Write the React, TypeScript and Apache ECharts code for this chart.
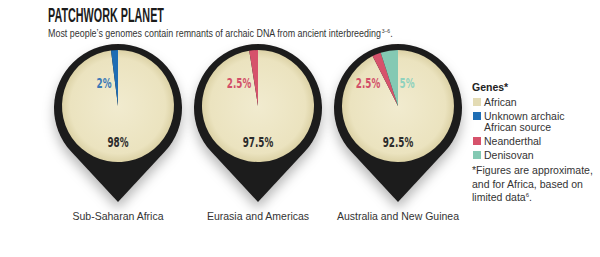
import React, { useEffect, useRef } from "react";
import * as echarts from "echarts";

// ---- data ----
const regions = ["Sub-Saharan Africa", "Eurasia and Americas", "Australia and New Guinea"];
const geneNames = ["African", "Unknown archaic African source", "Neanderthal", "Denisovan"];
const geneColors = ["#ebe3bf", "#1e6db4", "#d6526b", "#84c9b3"];
const geneLabelColors = ["#2b2b2b", "#3a78b6", "#d24f68", "#8fd2be"];
const africanPct = [98, 97.5, 92.5];
const unknownPct = [2, 0, 0];
const neanderthalPct = [0, 2.5, 2.5];
const denisovanPct = [0, 0, 5];

const titleText = "PATCHWORK PLANET";
const subtitleText = "Most people\u2019s genomes contain remnants of archaic DNA from ancient interbreeding";
const subtitleSup = "3\u20136";
const legendTitle = "Genes*";
const legendLabels = ["African", "Unknown archaic\nAfrican source", "Neanderthal", "Denisovan"];
const footLines = ["*Figures are approximate,", "and for Africa, based on", "limited data"];
const footSup = "6";

// ---- layout ----
const W = 600;
const H = 257;
const pinCx = [118, 258, 398];
const pinCy = 108;
const pinR = 64;
const tipDist = 94;
const pieR = 56;
const pieDy = -2;
// label offsets relative to pie centre, per slice
const labelOffsets: Record<number, [number, number][]> = {
  0: [[0, 36], [-14, -23]],
  1: [[0, 36], [-19, -23]],
  2: [[0, 36], [-30, -23], [9, -23]],
};

const pinPath = (() => {
  const a = Math.acos(pinR / tipDist);
  const tx = pinR * Math.sin(a);
  const ty = pinR * Math.cos(a);
  return `M ${-tx} ${ty} A ${pinR} ${pinR} 0 1 1 ${tx} ${ty} L 0 ${tipDist} Z`;
})();

let registered = false;
function ensureShape() {
  if (registered) return;
  echarts.graphic.registerShape("pin", echarts.graphic.extendPath(pinPath, {}) as any);
  registered = true;
}

export default function App() {
  const ref = useRef<HTMLDivElement>(null);
  useEffect(() => {
    if (!ref.current) return;
    ensureShape();
    const chart = echarts.init(ref.current, undefined, { renderer: "svg" });

    const seriesValues = regions.map((_, i) => [africanPct[i], unknownPct[i], neanderthalPct[i], denisovanPct[i]]);

    const africanFill = {
      type: "radial",
      x: 0.5,
      y: 0.5,
      r: 0.5,
      colorStops: [
        { offset: 0, color: "#f1ebcf" },
        { offset: 0.85, color: geneColors[0] },
        { offset: 1, color: "#dcd2a6" },
      ],
    };

    const series: any[] = regions.map((name, i) => ({
      type: "pie",
      name,
      center: [pinCx[i], pinCy + pieDy],
      radius: [0, pieR],
      startAngle: 90,
      clockwise: true,
      silent: true,
      label: { show: false },
      labelLine: { show: false },
      emphasis: { disabled: true },
      z: 5,
      data: seriesValues[i]
        .map((v, g) => ({ g, v }))
        .filter((d) => d.v > 0)
        .map((d) => ({
          name: geneNames[d.g],
          value: d.v,
          itemStyle: { color: d.g === 0 ? africanFill : geneColors[d.g] },
        })),
    }));

    const graphics: any[] = [];
    regions.forEach((_, i) => {
      graphics.push({
        type: "pin",
        x: pinCx[i],
        y: pinCy,
        z: 1,
        silent: true,
        style: {
          fill: "#1c1b1b",
          shadowBlur: 12,
          shadowColor: "rgba(0,0,0,0.28)",
          shadowOffsetY: 7,
        },
      });
      graphics.push({
        type: "text",
        x: pinCx[i],
        y: 216,
        z: 10,
        style: {
          text: regions[i],
          fill: "#333",
          font: "10.5px 'Liberation Sans', Arial, sans-serif",
          textAlign: "center",
          textVerticalAlign: "middle",
        },
      });
      const vals = seriesValues[i].map((v, g) => ({ v, g })).filter((d) => d.v > 0);
      vals.forEach((d, k) => {
        const off = labelOffsets[i][k];
        graphics.push({
          type: "text",
          x: pinCx[i] + off[0],
          y: pinCy + pieDy + off[1],
          z: 10,
          scaleX: 0.7,
          style: {
            text: `${d.v}%`,
            fill: geneLabelColors[d.g],
            font: "bold 14px 'Liberation Sans Narrow', 'DejaVu Sans Condensed', sans-serif",
            textAlign: "center",
            textVerticalAlign: "middle",
          },
        });
      });
    });

    graphics.push({
      type: "text",
      x: 48,
      y: 15,
      z: 10,
      scaleX: 0.54,
      style: {
        text: titleText,
        fill: "#1c1c1c",
        font: "bold 20px 'Liberation Sans Narrow', sans-serif",
        textVerticalAlign: "middle",
      },
    });
    graphics.push({
      type: "text",
      x: 48,
      y: 33,
      z: 10,
      scaleX: 0.85,
      style: {
        text: `{a|${subtitleText}}{s|${subtitleSup}}{a|.}`,
        rich: {
          a: { font: "10.5px 'Liberation Sans', Arial, sans-serif", fill: "#333" },
          s: { font: "6px 'Liberation Sans', Arial, sans-serif", fill: "#333", padding: [0, 0, 5, 0] },
        },
        textVerticalAlign: "middle",
      },
    });

    const lx = 472;
    graphics.push({
      type: "text",
      x: lx,
      y: 87,
      z: 10,
      style: {
        text: legendTitle,
        fill: "#222",
        font: "bold 10.5px 'Liberation Sans', Arial, sans-serif",
        textVerticalAlign: "middle",
      },
    });
    const legendYs = [102, 116, 141, 155];
    geneNames.forEach((_, g) => {
      graphics.push({
        type: "rect",
        z: 10,
        shape: { x: lx + 1, y: legendYs[g] - 4, width: 8, height: 8 },
        style: { fill: g === 0 ? "#e3dbb4" : geneColors[g] },
      });
      graphics.push({
        type: "text",
        x: lx + 12,
        y: legendYs[g] - 6,
        z: 10,
        style: {
          text: legendLabels[g],
          fill: "#333",
          font: "10.5px 'Liberation Sans', Arial, sans-serif",
          lineHeight: 11.5,
          textVerticalAlign: "top",
        },
      });
    });
    footLines.forEach((t, k) => {
      graphics.push({
        type: "text",
        x: lx,
        y: 170 + k * 13.5,
        z: 10,
        style: {
          text: k === footLines.length - 1 ? `{a|${t}}{s|${footSup}}{a|.}` : `{a|${t}}`,
          rich: {
            a: { font: "10.5px 'Liberation Sans', Arial, sans-serif", fill: "#333" },
            s: { font: "6px 'Liberation Sans', Arial, sans-serif", fill: "#333", padding: [0, 0, 5, 0] },
          },
          textVerticalAlign: "middle",
        },
      });
    });

    chart.setOption({
      animation: false,
      backgroundColor: "#ffffff",
      series,
      graphic: { elements: graphics },
    });
    return () => chart.dispose();
  }, []);

  return <div ref={ref} style={{ position: "fixed", left: 0, top: 0, width: W, height: H }} />;
}
